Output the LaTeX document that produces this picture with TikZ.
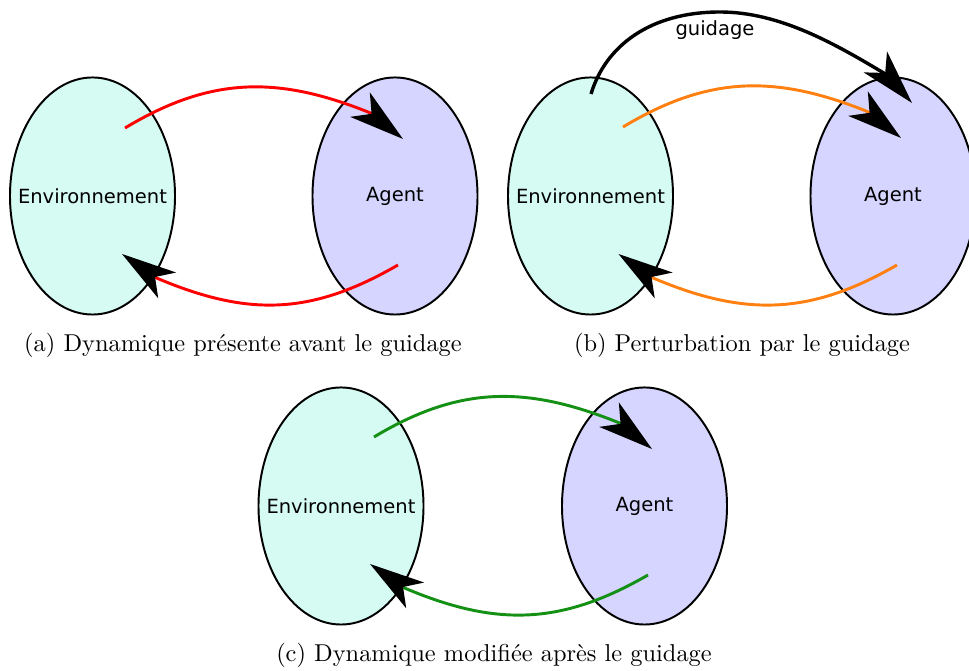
\documentclass[tikz,border=0pt]{standalone}
\usepackage{fontspec}
\newfontfamily\dejavu{DejaVu Sans}
\usetikzlibrary{arrows.meta,shapes.geometric,calc}
\definecolor{envfill}{RGB}{213,251,242}
\definecolor{agfill}{RGB}{213,213,255}
\definecolor{myred}{RGB}{255,0,0}
\definecolor{myorange}{RGB}{255,128,16}
\definecolor{mygreen}{RGB}{20,145,20}
\begin{document}
\begin{tikzpicture}[x=0.41pt,y=-0.41pt,
  ell/.style={ellipse,draw=black,line width=0.8pt,minimum width=67.65pt,minimum height=97.2pt,inner sep=0pt},
  envshape/.style={ell,fill=envfill},
  agshape/.style={ell,fill=agfill},
  lab/.style={font=\dejavu\fontsize{8}{9.6}\selectfont,inner sep=0pt},
  captext/.style={font=\fontsize{10}{12}\selectfont,anchor=base,inner sep=0pt},
  flowhead/.style={-{Stealth[length=22.5pt,width=12.8pt,inset=6pt,color=black]}},
  flow/.style={line width=1.2pt,flowhead},
  guide/.style={line width=1.4pt,black,flowhead},
]
\useasboundingbox (0,0) rectangle (969,671);

% ---------- panel (a)
\node[envshape] (envA) at (92.5,196) {};
\node[agshape] (agA) at (395,196) {};
\node[lab] (envAt) at (envA.center) {Environnement};
\node[lab] (agAt) at (agA.center) {Agent};
\coordinate (a1s) at ($(envA.center)+(32.5,-68)$);
\coordinate (a1t) at ($(agA.center)+(8,-57)$);
\coordinate (a1b) at ($(a1t)+(-32.5,-26)$);
\coordinate (a2s) at ($(agA.center)+(3,69)$);
\coordinate (a2t) at ($(envA.center)+(29.5,58)$);
\coordinate (a2b) at ($(a2t)+(34.5,24)$);
\draw[flow,myred] (a1s) .. controls ($(a1s)+(85.7,-51.5)$) and ($(a1b)+(-92.7,-37.5)$) .. (a1b) -- (a1t);
\draw[flow,myred] (a2s) .. controls ($(a2s)+(-86.6,50)$) and ($(a2b)+(92,39)$) .. (a2b) -- (a2t);
\node[captext] (capA) at (243,352) {(a) Dynamique présente avant le guidage};

% ---------- panel (b)
\node[envshape] (envB) at (590.5,196) {};
\node[agshape] (agB) at (893,196) {};
\node[lab] (envBt) at (envB.center) {Environnement};
\node[lab] (agBt) at (agB.center) {Agent};
\coordinate (b1s) at ($(envB.center)+(32.5,-69)$);
\coordinate (b1t) at ($(agB.center)+(8,-58)$);
\coordinate (b1b) at ($(b1t)+(-32.5,-26)$);
\coordinate (b2s) at ($(agB.center)+(4,69)$);
\coordinate (b2t) at ($(envB.center)+(28,58)$);
\coordinate (b2b) at ($(b2t)+(34.5,24)$);
\coordinate (b3s) at ($(envB.center)+(0.5,-102)$);
\coordinate (b3m) at ($(envB.center)+(129.5,-184)$);
\coordinate (b3t) at ($(agB.center)+(19,-93)$);
\coordinate (b3b) at ($(b3t)+(-25,-28)$);
\draw[flow,myorange] (b1s) .. controls ($(b1s)+(85.7,-51.5)$) and ($(b1b)+(-92.7,-37.5)$) .. (b1b) -- (b1t);
\draw[flow,myorange] (b2s) .. controls ($(b2s)+(-86.6,50)$) and ($(b2b)+(92,39)$) .. (b2b) -- (b2t);
\draw[guide] (b3s) .. controls ($(b3s)+(14.5,-48)$) and ($(b3m)+(-70,0)$) .. (b3m)
  .. controls ($(b3m)+(60,0)$) and ($(b3b)+(-51.4,-30.9)$) .. (b3b) -- (b3t);
\node[lab] (guideB) at (715,30) {guidage};
\node[captext] (capB) at (742,352) {(b) Perturbation par le guidage};

% ---------- panel (c)
\node[envshape] (envC) at (341,506) {};
\node[agshape] (agC) at (644.5,506) {};
\node[lab] (envCt) at (envC.center) {Environnement};
\node[lab] (agCt) at (agC.center) {Agent};
\coordinate (c1s) at ($(envC.center)+(33,-69)$);
\coordinate (c1t) at ($(agC.center)+(7.5,-57)$);
\coordinate (c1b) at ($(c1t)+(-32.5,-26)$);
\coordinate (c2s) at ($(agC.center)+(3.5,69)$);
\coordinate (c2t) at ($(envC.center)+(29,58)$);
\coordinate (c2b) at ($(c2t)+(34.5,24)$);
\draw[flow,mygreen] (c1s) .. controls ($(c1s)+(85.7,-51.5)$) and ($(c1b)+(-92.7,-37.5)$) .. (c1b) -- (c1t);
\draw[flow,mygreen] (c2s) .. controls ($(c2s)+(-86.6,50)$) and ($(c2b)+(92,39)$) .. (c2b) -- (c2t);
\node[captext] (capC) at (494,662) {(c) Dynamique modifiée après le guidage};
\end{tikzpicture}
\end{document}
